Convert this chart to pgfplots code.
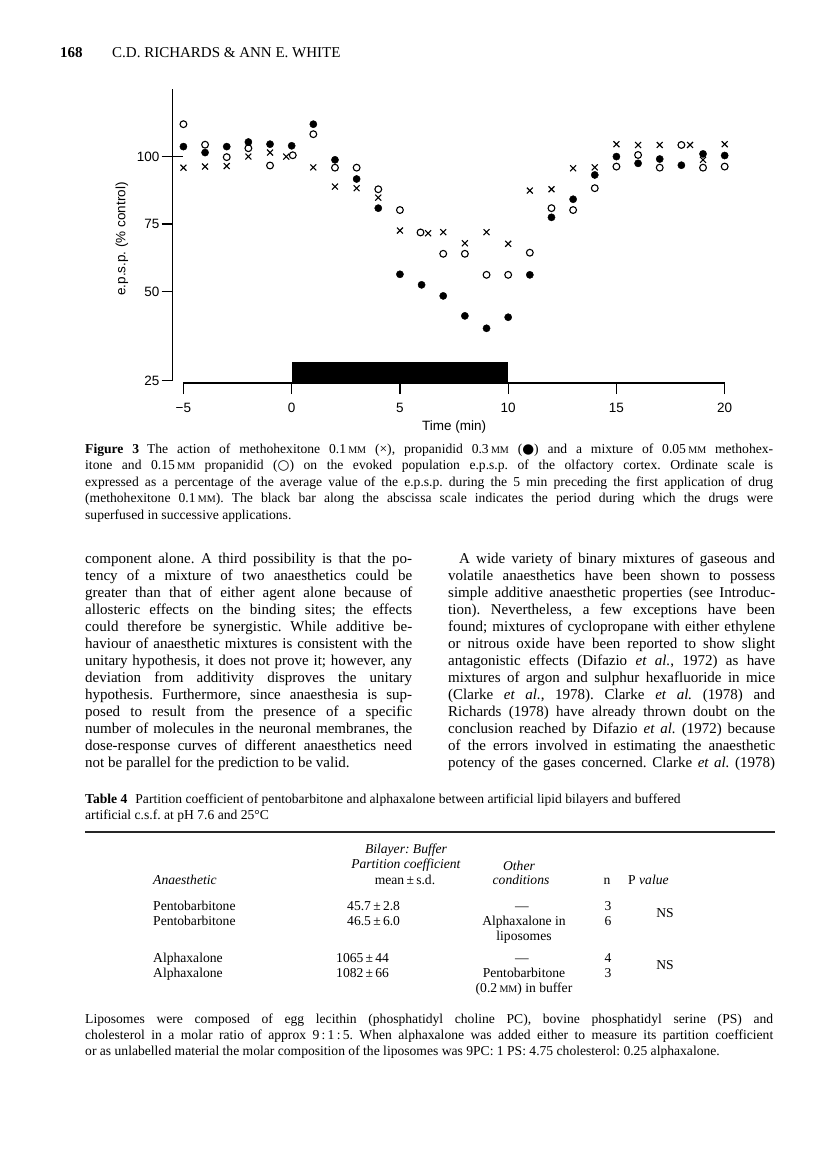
\documentclass[border=0pt]{standalone}
\usepackage{fontspec}
\setmainfont{Liberation Serif}
\setsansfont{Liberation Sans}
\newfontfamily\djv{DejaVu Sans}
\usepackage{graphicx}
\usepackage{pgfplots}
\pgfplotsset{compat=1.18}
\frenchspacing

\newlength\colw \setlength\colw{327pt}
\newlength\capw \setlength\capw{688pt}
\newcommand\mM{\scalebox{0.74}{MM}}
\newcommand\JL[4]{\node[anchor=base west,inner sep=0pt] at (#1,-#2) {\makebox[#3][s]{#4}};}
\newcommand\RL[3]{\node[anchor=base west,inner sep=0pt] at (#1,-#2) {#3};}
\newcommand\CL[3]{\node[anchor=base,inner sep=0pt] at (#1,-#2) {#3};}

\pgfplotstableread{
x y
-5 95.9
-4 96.3
-3 96.5
-2 100
-1 101.5
-0.25 100
1 96
2 88.9
3 88.3
4 84.8
5 72.6
6.3 71.6
7 72
8 67.9
9 72
10 67.7
11 87.4
12 87.9
13 95.7
14 96
15 104.6
16 104.3
17 104.3
18.4 104.3
19 98.8
20 104.6
}\methohex

\pgfplotstableread{
x y
-5 103.7
-4 101.5
-3 103.7
-2 105.4
-1 104.6
0 104
1 112
2 98.8
3 91.7
4 80.9
5 56.4
6 52.5
7 48.4
8 41
9 36.4
10 40.5
11 56.2
12 77.5
13 84.2
14 93.2
15 100
16 97.5
17 99.1
18 96.8
19 101
20 100.4
}\propanidid

\pgfplotstableread{
x y
-5 112
-4 104.4
-3 99.8
-2 103.1
-1 96.7
0.05 100.5
1 108.3
2 95.9
3 95.9
4 87.9
5 80.2
5.95 71.9
7 64
8 64
9 56.2
10 56.2
11 64.4
12 80.9
13 80.2
14 88.3
15 96.3
16 100.6
17 95.9
18 104.3
19 95.9
20 96.3
}\mixture

\begin{document}
\begin{tikzpicture}[x=1pt,y=1pt]
\fill[white] (0,0) rectangle (816,-1155);
\path[use as bounding box] (0,0) rectangle (816,-1155);

% running head
\begin{scope}[font=\fontsize{15}{17}\selectfont]
\RL{60}{57.5}{\textbf{168}}
\RL{112}{57.5}{C.D. RICHARDS \& ANN E. WHITE}
\end{scope}

% chart
\begin{axis}[
  at={(172.6pt,-383.1pt)}, anchor=south west,
  scale only axis, width=562.9pt, height=294pt,
  xmin=-5.5, xmax=20.5, ymin=16.1, ymax=125,
  axis lines=left, axis line style={draw=none},
  clip=false,
  xtick={-5,0,5,10,15,20}, xticklabels={−5,0,5,10,15,20},
  ytick={16.93,50,75,100}, yticklabels={25,50,75,100},
  tick align=outside, major tick length=11pt,
  minor tick num=0,
  tick style={line width=1.2pt, black},
  ticklabel style={font=\sffamily\fontsize{13.5}{16}\selectfont},
  xticklabel style={anchor=north, inner sep=0pt, yshift=-9pt},
  yticklabel style={anchor=east, inner sep=0pt, xshift=-2pt},
  xlabel={Time (min)}, ylabel={e.p.s.p. (\% control)},
  label style={font=\sffamily\fontsize{13.5}{16}\selectfont},
  xlabel style={at={(axis cs:7.5,-0.1)}, anchor=center},
  ylabel style={at={(axis cs:-7.84,69.5)}, anchor=center},
]
\draw[line width=1.3pt] (axis cs:-5.5,16.93) -- (axis cs:-5.5,125);
\draw[line width=1.3pt] (axis cs:-5,16.1) -- (axis cs:20,16.1);
\draw[line width=1.2pt] (axis cs:-5.5,100) -- (axis cs:-5,100);
\addplot[fill=black, draw=none] coordinates {(0,16.1) (0,24.1) (10,24.1) (10,16.1)} -- cycle;
\addplot[only marks, mark=x, mark size=4.2pt, line width=1.1pt, black] table {\methohex};
\addplot[only marks, mark=*, mark size=3.6pt, black] table {\propanidid};
\addplot[only marks, mark=o, mark size=3.4pt, line width=1.1pt, black] table {\mixture};
\end{axis}

% figure caption
\begin{scope}[font=\fontsize{13.6}{16}\selectfont]
\JL{85}{453}{\capw}{\textbf{Figure 3}\hspace*{8pt}The action of methohexitone 0.1\,\mM{} (×), propanidid 0.3\,\mM{} ({\djv ●}) and a mixture of 0.05\,\mM{} methohex-}
\JL{85}{469.5}{\capw}{itone and 0.15\,\mM{} propanidid ({\djv ○}) on the evoked population e.p.s.p. of the olfactory cortex. Ordinate scale is}
\JL{85}{486}{\capw}{expressed as a percentage of the average value of the e.p.s.p. during the 5 min preceding the first application of drug}
\JL{85}{502.5}{\capw}{(methohexitone 0.1\,\mM). The black bar along the abscissa scale indicates the period during which the drugs were}
\RL{85}{519}{superfused in successive applications.}
\end{scope}

% body text, two columns
\begin{scope}[font=\fontsize{15}{17}\selectfont]
\JL{85}{563.5}{\colw}{component alone. A third possibility is that the po-}
\JL{85}{580.5}{\colw}{tency of a mixture of two anaesthetics could be}
\JL{85}{597.5}{\colw}{greater than that of either agent alone because of}
\JL{85}{614.5}{\colw}{allosteric effects on the binding sites; the effects}
\JL{85}{631.5}{\colw}{could therefore be synergistic. While additive be-}
\JL{85}{648.5}{\colw}{haviour of anaesthetic mixtures is consistent with the}
\JL{85}{665.5}{\colw}{unitary hypothesis, it does not prove it; however, any}
\JL{85}{682.5}{\colw}{deviation from additivity disproves the unitary}
\JL{85}{699.5}{\colw}{hypothesis. Furthermore, since anaesthesia is sup-}
\JL{85}{716.5}{\colw}{posed to result from the presence of a specific}
\JL{85}{733.5}{\colw}{number of molecules in the neuronal membranes, the}
\JL{85}{750.5}{\colw}{dose-response curves of different anaesthetics need}
\RL{85}{767.5}{not be parallel for the prediction to be valid.}

\JL{448}{563.5}{\colw}{\hspace*{11pt}A wide variety of binary mixtures of gaseous and}
\JL{448}{580.5}{\colw}{volatile anaesthetics have been shown to possess}
\JL{448}{597.5}{\colw}{simple additive anaesthetic properties (see Introduc-}
\JL{448}{614.5}{\colw}{tion). Nevertheless, a few exceptions have been}
\JL{448}{631.5}{\colw}{found; mixtures of cyclopropane with either ethylene}
\JL{448}{648.5}{\colw}{or nitrous oxide have been reported to show slight}
\JL{448}{665.5}{\colw}{antagonistic effects (Difazio \textit{et al.}, 1972) as have}
\JL{448}{682.5}{\colw}{mixtures of argon and sulphur hexafluoride in mice}
\JL{448}{699.5}{\colw}{(Clarke \textit{et al.}, 1978). Clarke \textit{et al.} (1978) and}
\JL{448}{716.5}{\colw}{Richards (1978) have already thrown doubt on the}
\JL{448}{733.5}{\colw}{conclusion reached by Difazio \textit{et al.} (1972) because}
\JL{448}{750.5}{\colw}{of the errors involved in estimating the anaesthetic}
\JL{448}{767.5}{\colw}{potency of the gases concerned. Clarke \textit{et al.} (1978)}
\end{scope}

% table 4
\begin{scope}[font=\fontsize{13.6}{16}\selectfont]
\RL{85}{803}{\textbf{Table 4}\hspace*{8pt}Partition coefficient of pentobarbitone and alphaxalone between artificial lipid bilayers and buffered}
\RL{85}{819}{artificial c.s.f. at pH 7.6 and 25°C}
\draw[line width=1.4pt, black!85] (85,-832) -- (775,-832);

\CL{406}{853}{\textit{Bilayer: Buffer}}
\CL{406}{868}{\textit{Partition coefficient}}
\CL{519}{870}{\textit{Other}}
\RL{153}{884}{\textit{Anaesthetic}}
\CL{405}{884}{mean\,±\,s.d.}
\CL{521}{884}{\textit{conditions}}
\CL{607}{884}{n}
\RL{628}{884}{P \textit{value}}

\RL{153}{910}{Pentobarbitone}
\RL{347}{910}{45.7\,±\,2.8}
\CL{522}{910}{—}
\CL{608}{910}{3}
\RL{153}{925}{Pentobarbitone}
\RL{347}{925}{46.5\,±\,6.0}
\CL{524}{925}{Alphaxalone in}
\CL{608}{925}{6}
\CL{524}{940}{liposomes}
\CL{665}{917.5}{NS}

\RL{153}{962}{Alphaxalone}
\RL{336}{962}{1065\,±\,44}
\CL{522}{962}{—}
\CL{608}{962}{4}
\RL{153}{977}{Alphaxalone}
\RL{336}{977}{1082\,±\,66}
\CL{524}{977}{Pentobarbitone}
\CL{608}{977}{3}
\CL{524}{992}{(0.2\,\mM) in buffer}
\CL{665}{969.5}{NS}

\JL{85}{1023}{\capw}{Liposomes were composed of egg lecithin (phosphatidyl choline PC), bovine phosphatidyl serine (PS) and}
\JL{85}{1039}{\capw}{cholesterol in a molar ratio of approx 9\,:\,1\,:\,5. When alphaxalone was added either to measure its partition coefficient}
\RL{85}{1055}{or as unlabelled material the molar composition of the liposomes was 9PC: 1 PS: 4.75 cholesterol: 0.25 alphaxalone.}
\end{scope}
\end{tikzpicture}
\end{document}
